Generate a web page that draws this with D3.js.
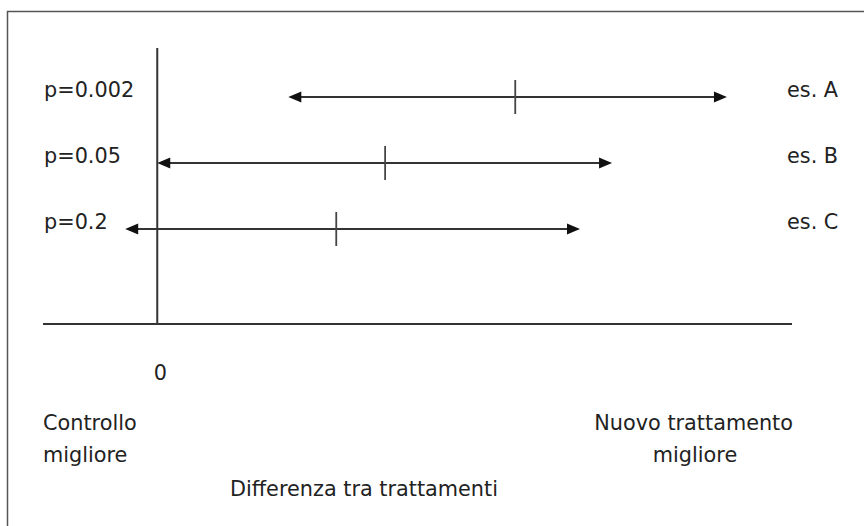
<!DOCTYPE html>
<html>
<head>
<meta charset="utf-8">
<script src="https://cdn.jsdelivr.net/npm/d3@7"></script>
<style>
  body { margin: 0; background: #fff; }
  text { font-family: "DejaVu Sans", sans-serif; font-size: 20.8px; fill: #222; }
</style>
</head>
<body>
<script>
// esempi: limiti dell'intervallo di confidenza e stima puntuale
const examples = ['es. A', 'es. B', 'es. C'];
const pLabels = ['p=0.002', 'p=0.05', 'p=0.2'];
const lower = [4.13, 0, -1.01];
const estimate = [11.28, 7.18, 5.64];
const upper = [17.95, 14.33, 13.32];

const width = 864, height = 526;

const svg = d3.select('body').append('svg')
  .attr('width', width)
  .attr('height', height);

// cornice (solo lato sinistro e superiore visibili)
svg.append('path')
  .attr('d', `M7.5,${height} V11.5 H${width}`)
  .attr('fill', 'none')
  .attr('stroke', '#555')
  .attr('stroke-width', 1.5);

const x = d3.scaleLinear().domain([-3.6, 20]).range([43, 792]);
const y = d3.scalePoint().domain(examples).range([97, 229]);
const y0 = 324;

// assi
svg.append('line')
  .attr('x1', x(-3.6)).attr('x2', x(20))
  .attr('y1', y0).attr('y2', y0)
  .attr('stroke', '#333').attr('stroke-width', 2);

svg.append('line')
  .attr('x1', x(0)).attr('x2', x(0))
  .attr('y1', 48).attr('y2', y0)
  .attr('stroke', '#333').attr('stroke-width', 2);

const rows = examples.map((e, i) => ({
  name: e, p: pLabels[i], lo: lower[i], est: estimate[i], hi: upper[i]
}));

const g = svg.selectAll('g.row')
  .data(rows)
  .enter().append('g')
  .attr('class', 'row')
  .attr('transform', d => `translate(0,${y(d.name)})`);

g.append('line')
  .attr('x1', d => x(d.lo) + 8).attr('x2', d => x(d.hi) - 8)
  .attr('stroke', '#333').attr('stroke-width', 2);

// punte delle frecce
g.append('path')
  .attr('d', d => `M${x(d.lo)},0 L${x(d.lo) + 13},-5.5 L${x(d.lo) + 13},5.5 Z`)
  .attr('fill', '#111');
g.append('path')
  .attr('d', d => `M${x(d.hi)},0 L${x(d.hi) - 13},-5.5 L${x(d.hi) - 13},5.5 Z`)
  .attr('fill', '#111');

// stima puntuale
g.append('line')
  .attr('x1', d => x(d.est)).attr('x2', d => x(d.est))
  .attr('y1', -17).attr('y2', 17)
  .attr('stroke', '#444').attr('stroke-width', 1.8);

g.append('text')
  .attr('x', 44).attr('y', 0)
  .text(d => d.p);

g.append('text')
  .attr('x', 787).attr('y', 0)
  .text(d => d.name);

// etichette asse
svg.append('text')
  .attr('x', x(0) + 3).attr('y', 380)
  .attr('text-anchor', 'middle')
  .text('0');

svg.append('text').attr('x', 43).attr('y', 430).text('Controllo');
svg.append('text').attr('x', 43).attr('y', 462).text('migliore');

svg.append('text').attr('x', 793).attr('y', 430)
  .attr('text-anchor', 'end').text('Nuovo trattamento');
svg.append('text').attr('x', 695).attr('y', 462)
  .attr('text-anchor', 'middle').text('migliore');

svg.append('text').attr('x', 230).attr('y', 496).text('Differenza tra trattamenti');
</script>
</body>
</html>
